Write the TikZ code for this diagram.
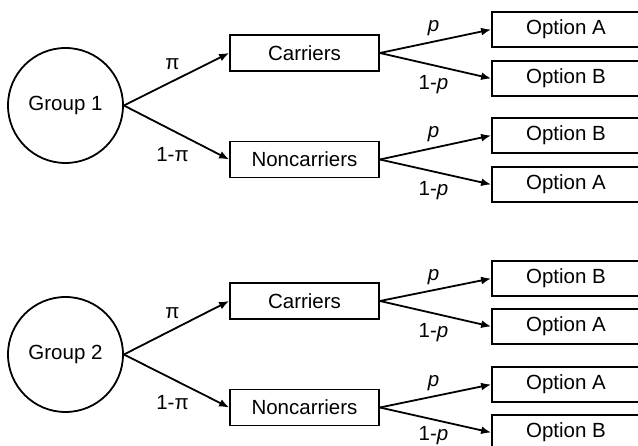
\documentclass[tikz,border=0pt]{standalone}
\usepackage{fontspec}
\setmainfont{Liberation Sans}
\usetikzlibrary{arrows.meta}

\begin{document}
\begin{tikzpicture}[x=1pt,y=-1pt,line width=1.8pt,>={Latex[length=10pt,width=8pt]},
 font=\fontsize{20.5}{24}\selectfont,
 grp/.style={draw,circle,minimum size=115pt,inner sep=0pt},
 sub/.style={draw,minimum width=149pt,minimum height=36pt,inner sep=0pt},
 opt/.style={draw,minimum width=148pt,minimum height=35pt,inner sep=0pt},
 e/.style={->},
 lup/.style={midway,xshift=-4pt,yshift=15pt},
 ldn/.style={midway,xshift=-4pt,yshift=-22pt},
 pup/.style={midway,xshift=-2pt,yshift=13pt},
 pdn/.style={midway,xshift=-2pt,yshift=-19pt}]
\useasboundingbox (0,0) rectangle (638,446);
\clip (0,0) rectangle (638,446);
% group 1
\node[grp] (g1) at (65.5,105.5) {Group 1};
\node[sub] (c1) at (304.5,53) {Carriers};
\node[sub] (n1) at (304.5,159.5) {Noncarriers};
\node[opt] (c1a) at (566,29.5) {Option A};
\node[opt] (c1b) at (566,78.5) {Option B};
\node[opt] (n1b) at (566,135.5) {Option B};
\node[opt] (n1a) at (566,184.5) {Option A};
\draw[e] (g1.east)--(c1.west) node[lup]{π};
\draw[e] (g1.east)--(n1.west) node[ldn]{1-π};
\draw[e] (c1.east)--(c1a.west) node[pup]{\textit{p}};
\draw[e] (c1.east)--(c1b.west) node[pdn]{1-\textit{p}};
\draw[e] (n1.east)--(n1b.west) node[pup]{\textit{p}};
\draw[e] (n1.east)--(n1a.west) node[pdn]{1-\textit{p}};
% group 2
\node[grp] (g2) at (65.5,354.5) {Group 2};
\node[sub] (c2) at (304.5,301) {Carriers};
\node[sub] (n2) at (304.5,407.5) {Noncarriers};
\node[opt] (c2b) at (566,278.5) {Option B};
\node[opt] (c2a) at (566,326.5) {Option A};
\node[opt] (n2a) at (566,384.5) {Option A};
\node[opt] (n2b) at (566,432.5) {Option B};
\draw[e] (g2.east)--(c2.west) node[lup]{π};
\draw[e] (g2.east)--(n2.west) node[ldn]{1-π};
\draw[e] (c2.east)--(c2b.west) node[pup]{\textit{p}};
\draw[e] (c2.east)--(c2a.west) node[pdn]{1-\textit{p}};
\draw[e] (n2.east)--(n2a.west) node[pup]{\textit{p}};
\draw[e] (n2.east)--(n2b.west) node[pdn,yshift=3pt]{1-\textit{p}};
\end{tikzpicture}
\end{document}
